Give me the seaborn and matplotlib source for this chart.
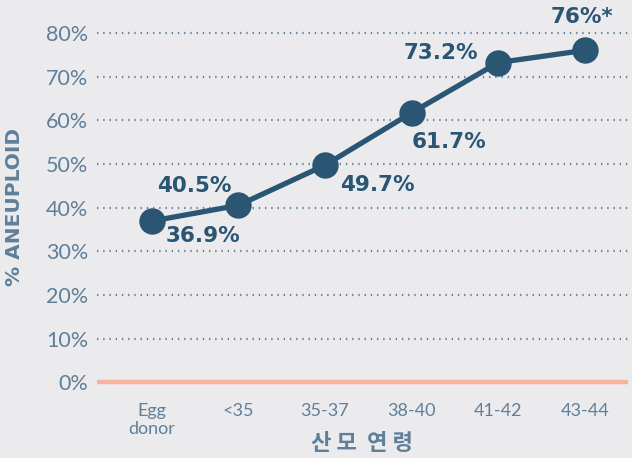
import numpy as np
import pandas as pd
import seaborn as sns
import matplotlib.pyplot as plt

# data
ages = ["Egg\ndonor", "<35", "35-37", "38-40", "41-42", "43-44"]
aneuploid = [36.9, 40.5, 49.7, 61.7, 73.2, 76.0]
labels = ["36.9%", "40.5%", "49.7%", "61.7%", "73.2%", "76%*"]
# label offsets in pixels relative to each point
offsets = [(51, -15), (-44, 19), (52, -20), (37, -29), (-57, 10), (-3, 33)]
yticks = [0, 10, 20, 30, 40, 50, 60, 70, 80]

bg = "#ebebee"
navy = "#2a5573"
muted = "#5f7f99"
orange = "#f5b49b"

sns.set_theme(style="white")
plt.rcParams["font.family"] = ["Lato", "Noto Sans CJK KR", "DejaVu Sans"]

df = pd.DataFrame({"age": ages, "pct": aneuploid, "x": np.arange(len(ages))})

fig = plt.figure(figsize=(6.32, 4.58), dpi=100, facecolor=bg)
ax = fig.add_axes([0.153, 0.156, 0.841, 0.839])
ax.set_facecolor(bg)

for t in yticks[1:]:
    ax.axhline(t, color=muted, lw=1.6, ls=(0, (0.6, 2.2)), zorder=1)
ax.axhline(0, color=orange, lw=3.2, zorder=1)

sns.lineplot(data=df, x="x", y="pct", color=navy, lw=3.8, marker="o",
             markersize=19, markeredgewidth=0, ax=ax, zorder=5)

for xi, yi, lab, off in zip(df["x"], df["pct"], labels, offsets):
    ax.annotate(lab, (xi, yi), xytext=off, textcoords="offset pixels",
                ha="center", va="center", fontsize=15.5, fontweight="bold",
                family=["DejaVu Sans"], color=navy, zorder=6)

ax.set_xlim(-0.635, 5.5)
ax.set_ylim(-1, 87)
ax.set_xticks(df["x"])
ax.set_xticklabels(ages, fontsize=13, color=muted, linespacing=1.15)
ax.set_yticks(yticks)
ax.set_yticklabels([f"{t}%" for t in yticks], fontsize=15.5, color=muted)
ax.tick_params(length=0, pad=6)
ax.tick_params(axis="x", pad=12)
for s in ax.spines.values():
    s.set_visible(False)

ax.set_xlabel("")
fig.text(362 / 632, 1 - 443 / 458, "산 모  연 령", fontsize=16,
         fontweight="bold", color=muted, family=["Noto Sans CJK KR"],
         ha="center", va="center")
ax.set_ylabel("% ANEUPLOID", fontsize=14.5, fontweight="bold",
              color=muted, family=["DejaVu Sans"])
ax.yaxis.set_label_coords(-(97 - 24) / 532, (386 - 207) / 384)

fig.savefig("out.png", dpi=100, facecolor=bg)
